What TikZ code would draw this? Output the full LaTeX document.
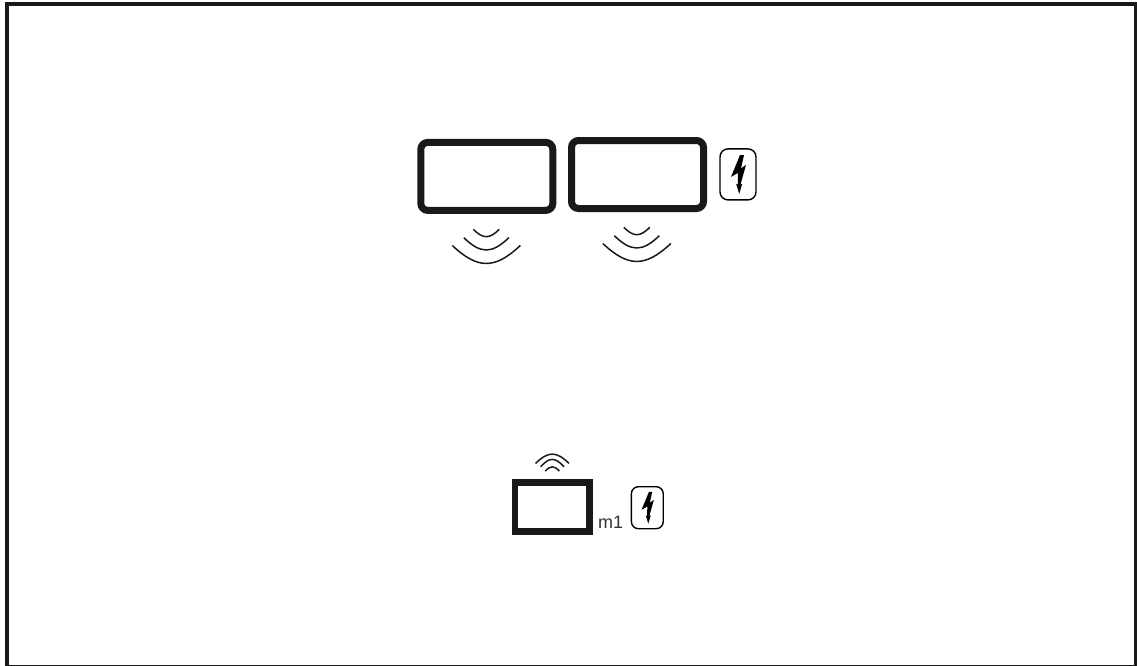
\documentclass[tikz,border=0pt]{standalone}
\usepackage{fontspec}
\setmainfont{Liberation Sans}
\usepackage{xcolor}
\usepackage{tikz}

\begin{document}
\begin{tikzpicture}[x=1pt, y=-1pt, every node/.style={font=\fontsize{18}{18}\selectfont, text=black!80}]
    \tikzset{
        screen/.style={draw=black!90, line width=7pt, rounded corners=7pt, inner sep=0pt, minimum width=132pt, minimum height=68pt},
        sensor/.style={draw=black!90, line width=6.5pt, inner sep=0pt, minimum width=74.5pt, minimum height=49pt},
        boltbox/.style={draw=black, line width=1.4pt, rounded corners=8pt, inner sep=0pt, minimum width=36pt, minimum height=51pt},
        wave/.style={draw=black!90, line width=1.5pt},
        wavesdown/.pic={
            \foreach \w/\top/\h in {13/0/7.4, 22.5/8.4/12.3, 34/16.2/18} {
                \draw[wave] (-\w,\top) .. controls (-0.25*\w,\top+1.33*\h) and (0.25*\w,\top+1.33*\h) .. (\w,\top);
            }
        },
        wavesup/.pic={
            \foreach \w/\top/\h in {16.7/0/9.3, 11.7/3.4/7.4, 7/7.7/4.3} {
                \draw[wave] (-\w,\top) .. controls (-0.25*\w,\top-1.33*\h) and (0.25*\w,\top-1.33*\h) .. (\w,\top);
            }
        },
        bolt/.pic={
            \fill[black] (2,-19.4) -- (-7,2.5) -- (0,-1.5) -- (-0.2,10) -- (-1.8,9.5) -- (1.2,19.5)
                -- (4.2,9.5) -- (2.5,10) -- (8,-9.5) -- (3,-6) -- (6,-19.4) -- cycle;
        }
    }

    \useasboundingbox (0,0) rectangle (1137,666);
    % frame
    \draw[black!90, line width=4.5pt] (7,4) rectangle (1136,667.5);

    % top row
    \node[screen] (left) at (486.8,176.4) {};
    \node[screen] (right) at (637.5,174.5) {};
    \node[boltbox] (power) at (738,174.4) {};
    \pic at (power.center) {bolt};
    \pic at (486.3,229.3) {wavesdown};
    \pic at (636.8,227.3) {wavesdown};

    % bottom row
    \node[sensor] (probe) at (552.2,507) {};
    \node[anchor=base west, inner sep=0pt] (label) at (598,528.3) {m1};
    \node[boltbox, minimum width=31.8pt, minimum height=42pt, rounded corners=7pt] (supply) at (647.3,507.7) {};
    \pic[scale=0.82] at (supply.center) {bolt};
    \pic at (552.3,463.4) {wavesup};
\end{tikzpicture}
\end{document}
